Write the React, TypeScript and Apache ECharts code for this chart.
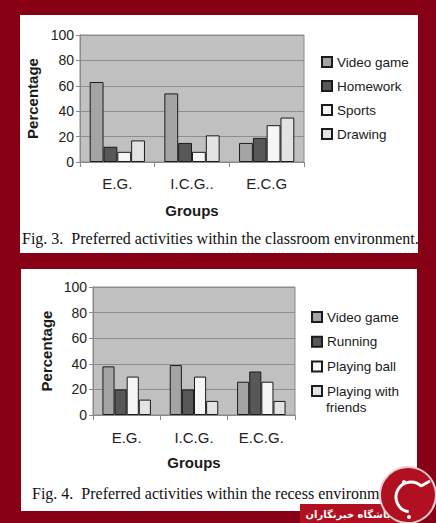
import React, { useEffect, useRef } from 'react';
import * as echarts from 'echarts';

// ---------- data ----------
const groupsClassroom = ['E.G.', 'I.C.G..', 'E.C.G'];
const groupsRecess = ['E.G.', 'I.C.G.', 'E.C.G.'];

const classroomNames = ['Video game', 'Homework', 'Sports', 'Drawing'];
const classroomVideoGame = [63, 54, 15];
const classroomHomework = [12, 15, 19];
const classroomSports = [8, 8, 29];
const classroomDrawing = [17, 21, 35];

const recessNames = ['Video game', 'Running', 'Playing ball', 'Playing with friends'];
const recessVideoGame = [38, 39, 26];
const recessRunning = [20, 20, 34];
const recessPlayingBall = [30, 30, 26];
const recessPlayingFriends = [12, 11, 11];

const yMin = 0;
const yMax = 100;
const yStep = 20;

const captionTop = 'Fig. 3.  Preferred activities within the classroom environment.';
const captionBottom = 'Fig. 4.  Preferred activities within the recess environment.';
const yTitle = 'Percentage';
const xTitle = 'Groups';
const watermarkText = 'باشگاه خبرنگاران';
const legendSecondLine = 'friends';

// ---------- styles ----------
const barColors = ['#a4a4a4', '#585858', '#f6f6f6', '#e3e3e3'];
const SANS = '"Liberation Sans", Arial, sans-serif';
const SERIF = '"Liberation Serif", "Times New Roman", serif';
const axisGray = '#8a8a8a';

function yAxis(gridIndex: number, nameGap: number) {
  return {
    type: 'value',
    gridIndex,
    min: yMin,
    max: yMax,
    interval: yStep,
    name: yTitle,
    nameLocation: 'middle',
    nameGap,
    nameTextStyle: { fontFamily: SANS, fontWeight: 'bold', fontSize: 15, color: '#1a1a1a' },
    axisLine: { show: true, lineStyle: { color: axisGray } },
    axisTick: { show: true, length: 4, lineStyle: { color: axisGray } },
    axisLabel: { fontFamily: SANS, fontSize: 14, color: '#222', margin: 6 },
    splitLine: { show: true, lineStyle: { color: '#8e8e8e', width: 1 } },
  };
}

function xAxis(gridIndex: number, data: string[], margin: number, nameGap: number) {
  return {
    type: 'category',
    gridIndex,
    data,
    name: xTitle,
    nameLocation: 'middle',
    nameGap,
    nameTextStyle: { fontFamily: SANS, fontWeight: 'bold', fontSize: 15, color: '#1a1a1a' },
    axisLine: { show: true, lineStyle: { color: axisGray } },
    axisTick: { show: true, alignWithLabel: false, length: 5, lineStyle: { color: axisGray } },
    axisLabel: { fontFamily: SANS, fontSize: 15, color: '#222', margin },
    splitLine: { show: false },
  };
}

function bars(names: string[], values: number[][], idx: number, gap: string) {
  return names.map((name, i) => ({
    type: 'bar',
    name,
    xAxisIndex: idx,
    yAxisIndex: idx,
    data: values[i],
    barGap: '0%',
    barCategoryGap: gap,
    itemStyle: { color: barColors[i], borderColor: '#1c1c1c', borderWidth: 1 },
    emphasis: { disabled: true },
  }));
}

export default function App() {
  const ref = useRef<HTMLDivElement>(null);

  useEffect(() => {
    if (!ref.current) return;
    const chart = echarts.init(ref.current, undefined, { renderer: 'svg' });

    const legendText = { fontFamily: SANS, fontSize: 13.5, color: '#1a1a1a', lineHeight: 14 };

    chart.setOption({
      animation: false,
      backgroundColor: '#880016',
      grid: [
        { left: 80, top: 35, width: 224, height: 127, show: true, backgroundColor: '#c0c0c0', borderColor: axisGray, borderWidth: 1 },
        { left: 93, top: 287, width: 202, height: 128, show: true, backgroundColor: '#c0c0c0', borderColor: axisGray, borderWidth: 1 },
      ],
      xAxis: [
        xAxis(0, groupsClassroom, 14, 41),
        xAxis(1, groupsRecess, 15, 40),
      ],
      yAxis: [yAxis(0, 38), yAxis(1, 39)],
      legend: [
        {
          orient: 'vertical',
          left: 321,
          top: 55,
          padding: 0,
          itemWidth: 10,
          itemHeight: 10,
          itemGap: 10,
          textStyle: legendText,
          icon: 'rect',
          selectedMode: false,
          data: classroomNames,
        },
        {
          orient: 'vertical',
          left: 311,
          top: 310,
          padding: 0,
          itemWidth: 10,
          itemHeight: 10,
          itemGap: 10.7,
          icon: 'rect',
          selectedMode: false,
          textStyle: legendText,
          formatter: (n: string) => (n === 'Playing with friends' ? 'Playing with' : n),
          data: recessNames,
        },
      ],
      series: [
        ...bars(classroomNames, [classroomVideoGame, classroomHomework, classroomSports, classroomDrawing], 0, '26%'),
        ...bars(recessNames, [recessVideoGame, recessRunning, recessPlayingBall, recessPlayingFriends], 1, '28%'),
      ],
      graphic: {
        elements: [
          { type: 'rect', z: -5, shape: { x: 20, y: 15, width: 398, height: 238 }, style: { fill: '#ffffff' } },
          { type: 'rect', z: -5, shape: { x: 21, y: 269, width: 396, height: 242 }, style: { fill: '#ffffff' } },
          {
            type: 'text', z: 10,
            style: { text: legendSecondLine, x: 326, y: 407, font: `13.5px ${SANS}`, fill: '#1a1a1a', align: 'left', verticalAlign: 'middle' },
          },
          {
            type: 'text', z: 10,
            style: { text: captionTop, x: 22, y: 238, font: `16px ${SERIF}`, fill: '#111', align: 'left', verticalAlign: 'middle' },
          },
          {
            type: 'text', z: 10,
            style: { text: captionBottom, x: 32, y: 493, font: `16px ${SERIF}`, fill: '#111', align: 'left', verticalAlign: 'middle' },
          },
          // watermark
          { type: 'rect', z: 20, shape: { x: 300, y: 504, width: 100, height: 19 }, style: { fill: '#b0101f' } },
          {
            type: 'text', z: 21,
            style: { text: watermarkText, x: 348, y: 514, font: `bold 10px "DejaVu Sans", sans-serif`, fill: '#ffffff', align: 'center', verticalAlign: 'middle' },
          },
          { type: 'circle', z: 22, shape: { cx: 408, cy: 495, r: 28 }, style: { fill: '#b0101f', stroke: '#e9cdd0', lineWidth: 2 } },
          { type: 'arc', z: 23, shape: { cx: 411, cy: 497, r: 15, startAngle: Math.PI * 0.55, endAngle: Math.PI * 1.75, clockwise: true }, style: { stroke: '#ffffff', lineWidth: 3, fill: 'none' } },
          { type: 'line', z: 23, shape: { x1: 421, y1: 486, x2: 430, y2: 481 }, style: { stroke: '#ffffff', lineWidth: 3 } },
          { type: 'circle', z: 23, shape: { cx: 409, cy: 517, r: 2 }, style: { fill: '#ffffff' } },
          { type: 'circle', z: 23, shape: { cx: 404, cy: 482, r: 2 }, style: { fill: '#ffffff' } },
        ],
      },
    });

    return () => chart.dispose();
  }, []);

  return <div ref={ref} style={{ position: 'absolute', left: 0, top: 0, width: 436, height: 523 }} />;
}
